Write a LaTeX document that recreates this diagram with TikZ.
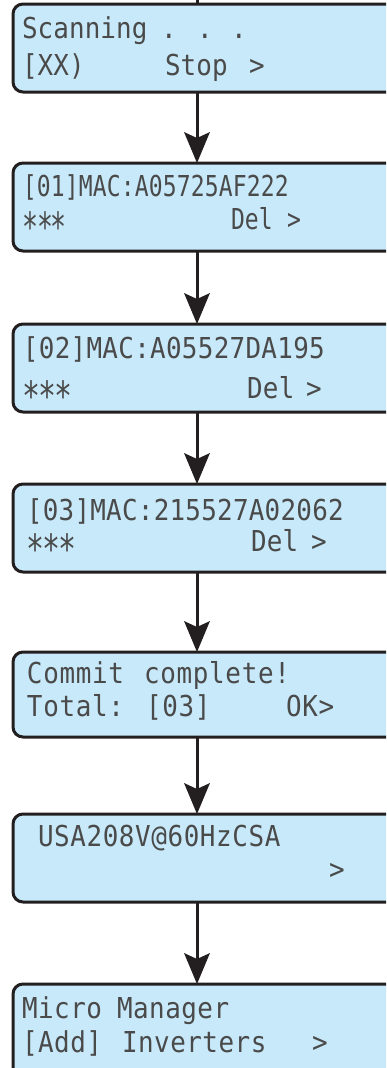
\documentclass[tikz,border=0pt]{standalone}
\usepackage{fontspec}
\newfontfamily\lcdB[FakeStretch=0.9]{DejaVu Sans Mono}
\newfontfamily\lcdC[FakeStretch=0.8]{DejaVu Sans Mono}
\usetikzlibrary{arrows.meta}
\definecolor{lcdfill}{HTML}{C7E9F9}
\definecolor{lcdedge}{HTML}{231F20}
\definecolor{lcdtext}{HTML}{4A4A4A}
\def\lcdloop#1{\ifx\relax#1\else\makebox[\lcdpitch pt][l]{#1}\expandafter\lcdloop\fi}
\newcommand\lcd[2]{\def\lcdpitch{#1}\lcdloop#2\relax}
\newcommand\lcdstar[1]{\makebox[#1pt][l]{\raisebox{-12pt}{\scalebox{1.15}[1.4]{*}}}}
\newcommand\lcdstars[1]{\lcdstar{#1}\lcdstar{#1}\lcdstar{#1}}
\tikzset{
  lcdbox/.style={draw=lcdedge, line width=3pt, fill=lcdfill, rounded corners=10pt,
    minimum width=400pt, minimum height=88pt, anchor=north west, inner sep=0pt, outer sep=0pt},
  tb/.style={anchor=base west, inner sep=0pt, outer sep=0pt, text=lcdtext,
    font=\lcdB\fontsize{28.8pt}{28.8pt}\selectfont},
  tc/.style={tb, font=\lcdC\fontsize{28.8pt}{28.8pt}\selectfont},
  arr/.style={line width=3pt, draw=lcdedge, -{Stealth[length=31pt,width=26pt,inset=6pt,line width=0pt]}},
}
\begin{document}
\begin{tikzpicture}[x=1pt,y=-1pt]
\useasboundingbox (0,0) rectangle (386,1068);
\clip (0,0) rectangle (386,1068);
% boxes
\node[lcdbox] (b1) at (13,4) {};
\node[lcdbox] (b2) at (13,163) {};
\node[lcdbox] (b3) at (13,324) {};
\node[lcdbox] (b4) at (13,484) {};
\node[lcdbox, minimum height=85pt] (b5) at (13,652) {};
\node[lcdbox] (b6) at (13,814) {};
\node[lcdbox, minimum height=100pt] (b7) at (13,984) {};
% connectors
\coordinate (ax) at (197,-3);
\draw[line width=3pt, draw=lcdedge] (ax) -- (b1.north -| ax);
\draw[arr] (b1.south -| ax) -- (b2.north -| ax);
\draw[arr] (b2.south -| ax) -- (b3.north -| ax);
\draw[arr] (b3.south -| ax) -- (b4.north -| ax);
\draw[arr] (b4.south -| ax) -- (b5.north -| ax);
\draw[arr] (b5.south -| ax) -- (b6.north -| ax);
\draw[arr] (b6.south -| ax) -- (b7.north -| ax);
% box 1
\node[tb] (t1a) at (22,38) {\lcd{15.7}{Scanning}};
\node[tb, anchor=base] (t1b) at (169,38) {.};
\node[tb, anchor=base] (t1c) at (205,38) {.};
\node[tb, anchor=base] (t1d) at (239,38) {.};
\node[tb] (t1e) at (22,75) {\lcd{15.7}{[XX)}};
\node[tb] (t1f) at (165,75) {\lcd{15.7}{Stop}};
\node[tb] (t1g) at (249,75) {\lcd{15.7}{>}};
% box 2
\node[tc] (t2a) at (23,196) {\lcd{14}{[01]MAC:A05725AF222}};
\node[tc] (t2b) at (23,229) {\lcdstars{14}};
\node[tc] (t2c) at (231,229) {\lcd{14}{Del}};
\node[tc] (t2d) at (287,229) {\lcd{14}{>}};
% box 3
\node[tb] (t3a) at (23,358) {\lcd{15.9}{[02]MAC:A05527DA195}};
\node[tb] (t3b) at (23,398) {\lcdstars{15.9}};
\node[tb] (t3c) at (247,398) {\lcd{15.9}{Del}};
\node[tb] (t3d) at (306,398) {\lcd{15.9}{>}};
% box 4
\node[tb] (t4a) at (27,520) {\lcd{15.85}{[03]MAC:215527A02062}};
\node[tb] (t4b) at (27,551) {\lcdstars{15.85}};
\node[tb] (t4c) at (251,551) {\lcd{15.85}{Del}};
\node[tb] (t4d) at (311,551) {\lcd{15.85}{>}};
% box 5
\node[tb] (t5a) at (27,683) {\lcd{16.3}{Commit}};
\node[tb] (t5b) at (144,683) {\lcd{16.3}{complete!}};
\node[tb] (t5c) at (27,716) {\lcd{16.3}{Total:}};
\node[tb] (t5d) at (146,716) {\lcd{16.3}{[03]}};
\node[tb] (t5e) at (286,716) {\lcd{16.3}{OK>}};
% box 6
\node[tb] (t6a) at (38,846) {\lcd{16.2}{USA208V@60HzCSA}};
\node[tb] (t6b) at (329,879) {\lcd{16.2}{>}};
% box 7
\node[tb] (t7a) at (22,1018) {\lcd{16.1}{Micro}};
\node[tb] (t7b) at (117,1018) {\lcd{16.1}{Manager}};
\node[tb] (t7c) at (22,1052) {\lcd{16.1}{[Add]}};
\node[tb] (t7d) at (122,1052) {\lcd{16.1}{Inverters}};
\node[tb] (t7e) at (312,1052) {\lcd{16.1}{>}};
\end{tikzpicture}
\end{document}
